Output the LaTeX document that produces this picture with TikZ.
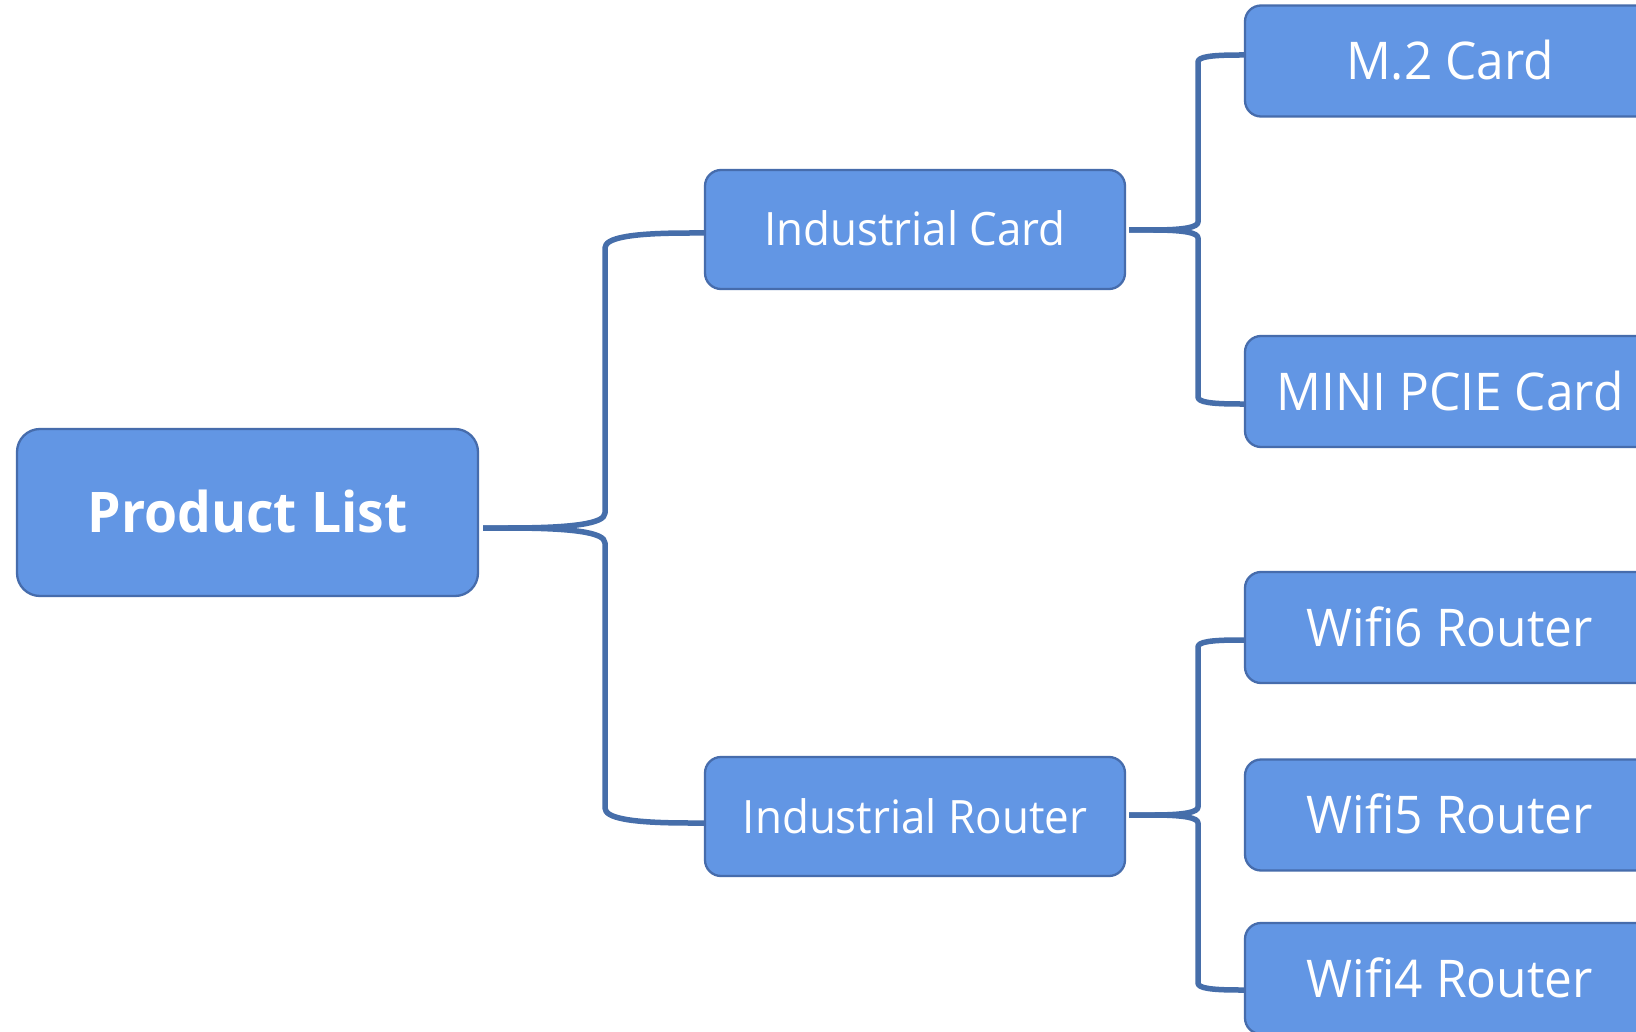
\documentclass[tikz,border=0pt]{standalone}
\usepackage{fontspec}
\setmainfont{Open Sans}[FakeStretch=0.955]
\usetikzlibrary{calc}
\definecolor{boxfill}{RGB}{98,150,228}
\definecolor{boxline}{RGB}{70,108,172}
\definecolor{connc}{RGB}{70,110,170}
\begin{document}
\begin{tikzpicture}[x=1pt,y=-1pt,
  box/.style={draw=boxline, line width=2.3pt, fill=boxfill, rounded corners=#1,
    text=white, inner sep=0pt, text depth=0pt, align=center},
  box/.default=16pt,
  rootbox/.style={box=23pt, minimum width=461pt, minimum height=167pt,
    text height=40pt, font=\fontsize{56}{60}\selectfont\bfseries},
  midbox/.style={box, minimum width=420pt, minimum height=119pt,
    text height=33pt, font=\fontsize{46}{50}\selectfont},
  leafbox/.style={box, minimum width=410pt, minimum height=111pt,
    text height=37pt, font=\fontsize{52}{56}\selectfont},
  conn/.style={draw=connc, line width=5.5pt, line join=round}]
\useasboundingbox (0,0) rectangle (1636,1032);
\clip (0,0) rectangle (1636,1032);
\fill[white] (0,0) rectangle (1636,1032);

\node[rootbox] (pl) at (247.5,512.5) {Product List};
\node[midbox] (ic) at (915,229.5) {Industrial Card};
\node[midbox] (ir) at (915,816.5) {Industrial Router};
\node[leafbox] (m2) at (1450,61) {M.2 Card};
\node[leafbox] (mp) at (1450,391.5) {MINI PCIE Card};
\node[leafbox] (w6) at (1450,627.5) {Wifi6 Router};
\node[leafbox] (w5) at (1450,815) {Wifi5 Router};
\node[leafbox] (w4) at (1450,978.5) {Wifi4 Router};

% level 1
\draw[conn] ($(pl.east)+(4,15.5)$) coordinate (s1) -- (507,528)
  .. controls (570,528) and (605,524) .. (605,513) -- (605,248)
  .. controls (605,238) and (630,233) .. (690,233) -- ($(ic.west)+(0,3.5)$);
\draw[conn] (s1) -- (507,528)
  .. controls (570,528) and (605,532) .. (605,543) -- (605,808)
  .. controls (605,818) and (630,823) .. (690,823) -- ($(ir.west)+(0,6.5)$);

% level 2 (cards)
\draw[conn] ($(ic.east)+(3,0.5)$) coordinate (s2) -- (1153,230)
  .. controls (1185,230) and (1198,227) .. (1198,222) -- (1198,62)
  .. controls (1198,57) and (1210,55) .. (1240,55) -- ($(m2.west)+(0,-6)$);
\draw[conn] (s2) -- (1153,230)
  .. controls (1185,230) and (1198,233) .. (1198,238) -- (1198,397)
  .. controls (1198,402) and (1210,404) .. (1240,404) -- ($(mp.west)+(0,12.5)$);

% level 2 (routers)
\draw[conn] ($(ir.east)+(3,-1.5)$) coordinate (s3) -- (1153,815)
  .. controls (1185,815) and (1198,812) .. (1198,807) -- (1198,647)
  .. controls (1198,642) and (1210,640) .. (1240,640) -- ($(w6.west)+(0,12.5)$);
\draw[conn] (s3) -- (1153,815)
  .. controls (1185,815) and (1198,818) .. (1198,823) -- (1198,983)
  .. controls (1198,988) and (1210,990) .. (1240,990) -- ($(w4.west)+(0,11.5)$);
\end{tikzpicture}
\end{document}
